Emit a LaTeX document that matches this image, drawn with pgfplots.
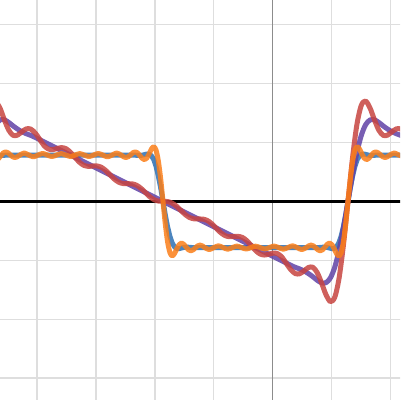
\documentclass[border=0pt]{standalone}
\usepackage{pgfplots}
\pgfplotsset{compat=1.18}
\definecolor{dred}{HTML}{C74440}
\definecolor{dblue}{HTML}{2D70B3}
\definecolor{dpurple}{HTML}{6042A6}
\definecolor{dorange}{HTML}{FA7E19}
\colorlet{gridc}{black!13}
\begin{document}
\begin{tikzpicture}
\begin{axis}[
 width=288pt, height=288pt, scale only axis,
 xmin=-4.630, xmax=2.161, ymin=-3.373, ymax=3.418,
 axis line style={draw=none},
 ticks=none,
 clip=true,
 every axis plot/.append style={line join=round, line cap=round},
]
\pgfplotsinvokeforeach{-4,-3,-2,-1,1,2}{
 \addplot[gridc, line width=0.9pt, line cap=butt] coordinates {(#1,-4) (#1,4)};
}
\pgfplotsinvokeforeach{-3,-2,-1,1,2,3}{
 \addplot[gridc, line width=0.9pt, line cap=butt] coordinates {(-5,#1) (3,#1)};
}
\addplot[black!45, line width=1pt, line cap=butt] coordinates {(0,-4) (0,4)};
\addplot[black, line width=2.4pt, line cap=butt] coordinates {(-5,0) (3,0)};
% blue: smoothed square wave
\addplot[dblue, opacity=0.85, line width=3.6pt] coordinates {
(-4.730,0.8027) (-4.691,0.7931) (-4.651,0.7832) (-4.612,0.7783) (-4.573,0.7791) (-4.534,0.7831) (-4.494,0.7854) (-2.374,0.7854) (-2.334,0.7831) (-2.295,0.7791) (-2.256,0.7783) (-2.217,0.7832) (-2.177,0.7931) (-2.138,0.8027) (-2.099,0.8010) (-2.060,0.7744) (-2.020,0.7091) (-1.981,0.5953) (-1.942,0.4318) (-1.902,0.2275) (-1.863,0) (-1.824,-0.2275) (-1.785,-0.4318) (-1.745,-0.5953) (-1.706,-0.7091) (-1.667,-0.7744) (-1.627,-0.8010) (-1.588,-0.8027) (-1.549,-0.7931) (-1.510,-0.7832) (-1.470,-0.7783) (-1.431,-0.7791) (-1.392,-0.7831) (-1.352,-0.7854) (0.768,-0.7854) (0.807,-0.7831) (0.846,-0.7791) (0.886,-0.7783) (0.925,-0.7832) (0.964,-0.7931) (1.004,-0.8027) (1.043,-0.8010) (1.082,-0.7744) (1.121,-0.7091) (1.161,-0.5953) (1.200,-0.4318) (1.239,-0.2275) (1.278,0) (1.318,0.2275) (1.357,0.4318) (1.396,0.5953) (1.435,0.7091) (1.475,0.7744) (1.514,0.8010) (1.553,0.8027) (1.593,0.7931) (1.632,0.7832) (1.671,0.7783) (1.710,0.7791) (1.750,0.7831) (1.789,0.7854) (2.250,0.7854)
};
% purple: smoothed sawtooth
\addplot[dpurple, opacity=0.85, line width=3.6pt, smooth] coordinates {
(-4.706,1.3004) (-4.631,1.3814) (-4.556,1.3836) (-4.481,1.3389) (-4.406,1.2790) (-4.332,1.2260) (-4.257,1.1808) (-4.182,1.1470) (-4.107,1.1190) (-4.032,1.0846) (-3.509,0.8228) (-2.761,0.4488) (-1.863,0) (-0.966,-0.4488) (-0.218,-0.8228) (0.306,-1.0846) (0.381,-1.1190) (0.455,-1.1470) (0.530,-1.1808) (0.605,-1.2260) (0.680,-1.2790) (0.754,-1.3389) (0.829,-1.3836) (0.904,-1.3814) (0.979,-1.3004) (1.054,-1.1157) (1.128,-0.8225) (1.203,-0.4375) (1.278,0) (1.353,0.4375) (1.428,0.8225) (1.503,1.1157) (1.577,1.3004) (1.652,1.3814) (1.727,1.3836) (1.802,1.3389) (1.877,1.2790) (1.951,1.2260) (2.026,1.1808) (2.101,1.1470) (2.176,1.1190) (2.250,1.0846)
};
% red: sawtooth partial sum
\addplot[dred, opacity=0.85, line width=3.6pt, smooth] coordinates {
(-4.706,1.7023) (-4.631,1.5847) (-4.556,1.3839) (-4.481,1.2072) (-4.406,1.1190) (-4.332,1.1244) (-4.257,1.1817) (-4.182,1.2307) (-4.107,1.2260) (-4.032,1.1591) (-3.957,1.0547) (-3.883,0.9465) (-3.808,0.8879) (-3.733,0.8783) (-3.658,0.8976) (-3.584,0.9118) (-3.509,0.8928) (-3.434,0.8330) (-3.359,0.7480) (-3.284,0.6662) (-3.210,0.6123) (-3.135,0.5940) (-3.060,0.5984) (-2.985,0.6008) (-2.910,0.5786) (-2.836,0.5243) (-2.761,0.4488) (-2.686,0.3747) (-2.611,0.3228) (-2.536,0.3009) (-2.462,0.2992) (-2.387,0.2967) (-2.312,0.2733) (-2.237,0.2213) (-2.162,0.1496) (-2.088,0.0783) (-2.013,0.0270) (-1.938,0.0037) (-1.863,0) (-1.789,-0.0037) (-1.714,-0.0270) (-1.639,-0.0783) (-1.564,-0.1496) (-1.489,-0.2213) (-1.415,-0.2733) (-1.340,-0.2967) (-1.265,-0.2992) (-1.190,-0.3009) (-1.115,-0.3228) (-1.041,-0.3747) (-0.966,-0.4488) (-0.891,-0.5243) (-0.816,-0.5786) (-0.741,-0.6008) (-0.667,-0.5984) (-0.592,-0.5940) (-0.517,-0.6123) (-0.442,-0.6662) (-0.367,-0.7480) (-0.293,-0.8330) (-0.218,-0.8928) (-0.143,-0.9118) (-0.068,-0.8976) (0.007,-0.8783) (0.081,-0.8879) (0.156,-0.9465) (0.231,-1.0547) (0.306,-1.1591) (0.381,-1.2260) (0.455,-1.2307) (0.530,-1.1817) (0.605,-1.1244) (0.680,-1.1190) (0.754,-1.2072) (0.829,-1.3839) (0.904,-1.5847) (0.979,-1.7023) (1.054,-1.6276) (1.128,-1.2960) (1.203,-0.7216) (1.278,0) (1.353,0.7216) (1.428,1.2960) (1.503,1.6276) (1.577,1.7023) (1.652,1.5847) (1.727,1.3839) (1.802,1.2072) (1.877,1.1190) (1.951,1.1244) (2.026,1.1817) (2.101,1.2307) (2.176,1.2260) (2.250,1.1591)
};
% orange: square wave partial sum
\addplot[dorange, opacity=0.85, line width=3.6pt, smooth] coordinates {
(-4.730,0.7345) (-4.691,0.7078) (-4.651,0.7296) (-4.612,0.7781) (-4.573,0.8225) (-4.534,0.8394) (-4.494,0.8241) (-4.455,0.7892) (-4.416,0.7564) (-4.377,0.7435) (-4.337,0.7555) (-4.298,0.7832) (-4.219,0.8199) (-4.141,0.7854) (-4.062,0.7553) (-3.984,0.7854) (-3.905,0.8128) (-3.827,0.7854) (-3.748,0.7598) (-3.670,0.7854) (-3.591,0.8101) (-3.513,0.7854) (-3.434,0.7610) (-3.355,0.7854) (-3.277,0.8101) (-3.198,0.7854) (-3.120,0.7598) (-3.041,0.7854) (-2.963,0.8128) (-2.884,0.7854) (-2.806,0.7553) (-2.727,0.7854) (-2.649,0.8199) (-2.570,0.7832) (-2.531,0.7555) (-2.492,0.7435) (-2.452,0.7564) (-2.413,0.7892) (-2.374,0.8241) (-2.334,0.8394) (-2.295,0.8225) (-2.256,0.7781) (-2.217,0.7296) (-2.177,0.7078) (-2.138,0.7345) (-2.099,0.8042) (-2.060,0.8859) (-2.020,0.9260) (-1.981,0.8699) (-1.942,0.6854) (-1.902,0.3795) (-1.863,0) (-1.824,-0.3795) (-1.785,-0.6854) (-1.745,-0.8699) (-1.706,-0.9260) (-1.667,-0.8859) (-1.627,-0.8042) (-1.588,-0.7345) (-1.549,-0.7078) (-1.510,-0.7296) (-1.470,-0.7781) (-1.431,-0.8225) (-1.392,-0.8394) (-1.352,-0.8241) (-1.313,-0.7892) (-1.274,-0.7564) (-1.235,-0.7435) (-1.195,-0.7555) (-1.156,-0.7832) (-1.078,-0.8199) (-0.999,-0.7854) (-0.921,-0.7553) (-0.842,-0.7854) (-0.764,-0.8128) (-0.685,-0.7854) (-0.607,-0.7598) (-0.528,-0.7854) (-0.450,-0.8101) (-0.371,-0.7854) (-0.292,-0.7610) (-0.214,-0.7854) (-0.135,-0.8101) (-0.057,-0.7854) (0.022,-0.7598) (0.100,-0.7854) (0.179,-0.8128) (0.257,-0.7854) (0.336,-0.7553) (0.414,-0.7854) (0.493,-0.8199) (0.572,-0.7832) (0.611,-0.7555) (0.650,-0.7435) (0.689,-0.7564) (0.729,-0.7892) (0.768,-0.8241) (0.807,-0.8394) (0.846,-0.8225) (0.886,-0.7781) (0.925,-0.7296) (0.964,-0.7078) (1.004,-0.7345) (1.043,-0.8042) (1.082,-0.8859) (1.121,-0.9260) (1.161,-0.8699) (1.200,-0.6854) (1.239,-0.3795) (1.278,0) (1.318,0.3795) (1.357,0.6854) (1.396,0.8699) (1.435,0.9260) (1.475,0.8859) (1.514,0.8042) (1.553,0.7345) (1.593,0.7078) (1.632,0.7296) (1.671,0.7781) (1.710,0.8225) (1.750,0.8394) (1.789,0.8241) (1.828,0.7892) (1.868,0.7564) (1.907,0.7435) (1.946,0.7555) (1.985,0.7832) (2.064,0.8199) (2.142,0.7854) (2.221,0.7553)
};
\end{axis}
\pgfresetboundingbox
\path (current axis.south west) rectangle (current axis.north east);
\end{tikzpicture}
\end{document}
